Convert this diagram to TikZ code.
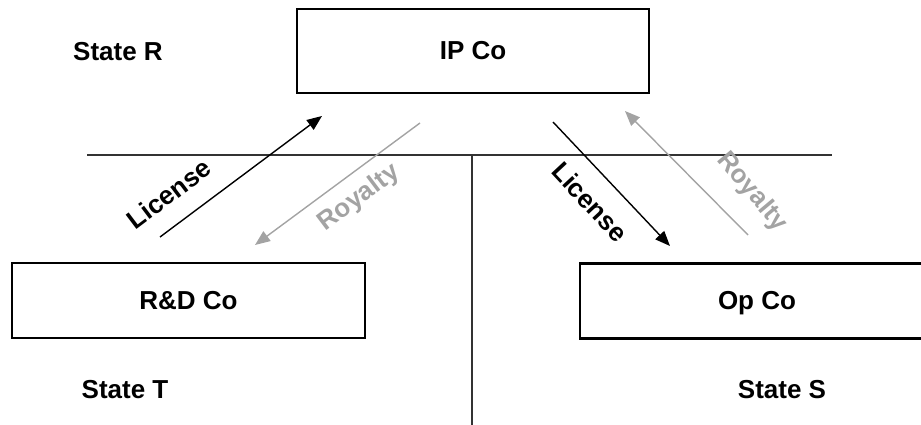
\documentclass[tikz,border=0pt]{standalone}
\usepackage{fontspec}
\setmainfont{Liberation Sans}
\usetikzlibrary{arrows.meta}
\definecolor{flowgray}{HTML}{A3A3A3}
\begin{document}
\begin{tikzpicture}[x=1pt,y=-1pt,
  company/.style={draw=black,line width=2.3pt,minimum width=#1,minimum height=75pt,inner sep=0pt,
    font=\fontsize{26}{30}\selectfont\bfseries},
  company/.default=350pt,
  statelabel/.style={font=\fontsize{26}{30}\selectfont\bfseries},
  flowlabel/.style={font=\fontsize{26}{30}\selectfont\bfseries},
  border/.style={line width=1.3pt,draw=black!80},
  flowline/.style={line width=1.4pt,-{Triangle[length=15pt,width=12pt]}}
]
\useasboundingbox (0,0) rectangle (921,425);

% companies
\node[company=352pt,minimum height=84pt] (ip) at (473,51) {IP Co};
\node[company=353pt] (rd) at (188.5,300.5) {R\&D Co};
\node[company=350pt,anchor=west] (op) at (579,301) {};
\node at (757,303) [font=\fontsize{26}{30}\selectfont\bfseries] (optext) {Op Co};

% state names
\node[statelabel] (sr) at (118,52) {State R};
\node[statelabel] (st) at (125,390) {State T};
\node[statelabel] (ss) at (782,390) {State S};

% borders between states
\coordinate (hl) at (87,155);
\coordinate (hr) at (832,155);
\coordinate (vt) at (472,155);
\coordinate (vb) at (472,426);
\draw[border] (hl) -- (hr);
\draw[border] (vt) -- (vb);

% R&D Co <-> IP Co
\coordinate (lic1s) at (160,237);
\coordinate (lic1e) at (322,116);
\coordinate (roy1s) at (420,123);
\coordinate (roy1e) at (255,245);
\draw[flowline,black] (lic1s) -- (lic1e);
\draw[flowline,flowgray] (roy1s) -- (roy1e);
\node[flowlabel,rotate=37] (lic1) at (169,194) {License};
\node[flowlabel,rotate=37,text=flowgray] (roy1) at (359,198) {Royalty};

% IP Co <-> Op Co
\coordinate (lic2s) at (553,122);
\coordinate (lic2e) at (670,246);
\coordinate (roy2s) at (748,235);
\coordinate (roy2e) at (625,111);
\draw[flowline,black] (lic2s) -- (lic2e);
\draw[flowline,flowgray] (roy2s) -- (roy2e);
\node[flowlabel,rotate=-47] (lic2) at (590,202) {License};
\node[flowlabel,rotate=-50,text=flowgray] (roy2) at (752,192) {Royalty};
\end{tikzpicture}
\end{document}
